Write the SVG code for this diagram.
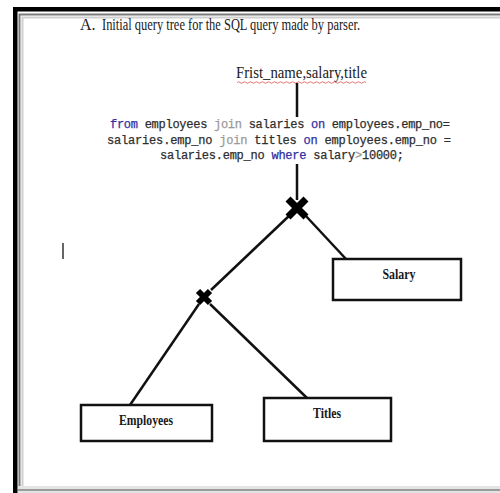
<svg xmlns="http://www.w3.org/2000/svg" width="500" height="493" viewBox="0 0 500 493">
<style>
.serif{font-family:"Liberation Serif","Times New Roman",serif;fill:#1a1a1a}
.lbl{font-family:"Liberation Serif","Times New Roman",serif;font-weight:bold;font-size:15px;fill:#1a1a1a;text-anchor:middle}
.code{font-family:"Liberation Mono","Courier New",monospace;font-size:12px;fill:#2e2e2e;stroke:#2e2e2e;stroke-width:0.25}
.kw{fill:#2f2fa0;stroke:#2f2fa0}
.jn{fill:#9a9a9a;stroke:#9a9a9a}
.box{fill:#fff;stroke:#111;stroke-width:2.5}
.edge{stroke:#111;stroke-width:2.5;fill:none}
.join{stroke:#000;stroke-width:7;stroke-linecap:butt}
</style>
<rect width="500" height="493" fill="#fff"/>
<g id="frame">
<path d="M13,493 V7 H500 V11.5 H17.5 V493 Z" fill="#000"/>
<path d="M19.5,493 V14.5 H500" stroke="#7a7a7a" stroke-width="2" fill="none"/>
<path d="M22.5,493 V17.5 H500" stroke="#cfcfcf" stroke-width="2" fill="none"/>
<rect x="18" y="486" width="482" height="7" fill="#e4e4e4"/>
<rect x="18" y="489" width="482" height="2" fill="#9a9a9a"/>
</g>
<g id="title">
<text class="serif" x="80" y="30" font-size="16">A.</text>
<text class="serif" x="102" y="30" font-size="16" textLength="258" lengthAdjust="spacingAndGlyphs">Initial query tree for the SQL query made by parser.</text>
</g>
<g id="projection">
<text class="serif" x="236" y="78" font-size="16" textLength="131" lengthAdjust="spacingAndGlyphs">Frist_name,salary,title</text>
<path d="M237,82.5 q1.5,-1.5 3,0 t3,0 t3,0 t3,0 t3,0 t3,0 t3,0 t3,0 t3,0 t3,0 t3,0 t3,0 t3,0 t3,0 t3,0 t3,0 t3,0 t3,0 t3,0 t3,0 t3,0 t3,0 t3,0 t3,0 t3,0 t3,0 t3,0 t3,0 t3,0 t3,0 t3,0 t3,0 t3,0 t3,0 t3,0 t3,0 t3,0 t3,0 t3,0 t3,0 t3,0 t3,0 t3,0" stroke="#e05050" stroke-width="0.8" fill="none"/>
</g>
<g id="sql">
<text class="code" x="110" y="128" textLength="340" lengthAdjust="spacing"><tspan class="kw">from</tspan> employees <tspan class="jn">join</tspan> salaries <tspan class="kw">on</tspan> employees.emp_no=</text>
<text class="code" x="107" y="143.5" textLength="344" lengthAdjust="spacing">salaries.emp_no <tspan class="jn">join</tspan> titles <tspan class="kw">on</tspan> employees.emp_no =</text>
<text class="code" x="160" y="159" textLength="244" lengthAdjust="spacing">salaries.emp_no <tspan class="kw">where</tspan> salary<tspan class="jn">&gt;</tspan>10000;</text>
</g>
<g id="connectors">
<line class="edge" x1="297" y1="83" x2="297" y2="117"/>
<line class="edge" x1="297" y1="164" x2="297" y2="200"/>
<line class="edge" x1="305" y1="215" x2="346" y2="259"/>
<line class="edge" x1="290" y1="215" x2="211" y2="290"/>
<line class="edge" x1="199" y1="304" x2="130" y2="405"/>
<line class="edge" x1="210" y1="304" x2="307" y2="398"/>
</g>
<g id="join-top">
<line class="join" x1="288" y1="199" x2="306" y2="217"/>
<line class="join" x1="306" y1="199" x2="288" y2="217"/>
</g>
<g id="join-bottom">
<line class="join" style="stroke-width:6" x1="198" y1="291" x2="210" y2="303"/>
<line class="join" style="stroke-width:6" x1="210" y1="291" x2="198" y2="303"/>
</g>
<g id="salary">
<rect class="box" x="333" y="259" width="128" height="41"/>
<text class="lbl" x="399" y="279" textLength="33" lengthAdjust="spacingAndGlyphs">Salary</text>
</g>
<g id="employees">
<rect class="box" x="81" y="405" width="131" height="36"/>
<text class="lbl" x="146" y="425" textLength="54" lengthAdjust="spacingAndGlyphs">Employees</text>
</g>
<g id="titles">
<rect class="box" x="264" y="398" width="127" height="43"/>
<text class="lbl" x="327" y="418" textLength="28" lengthAdjust="spacingAndGlyphs">Titles</text>
</g>
<line id="cursor" x1="63" y1="243" x2="63" y2="259" stroke="#333" stroke-width="1.5"/>
</svg>
